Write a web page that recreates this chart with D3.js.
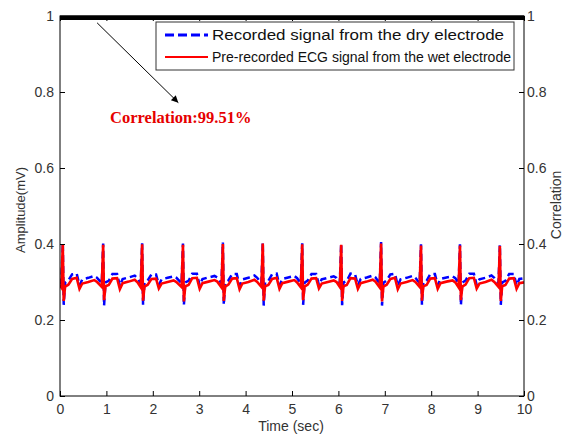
<!DOCTYPE html>
<html>
<head>
  <meta charset="utf-8">
  <title>ECG dry vs wet electrode</title>
  <style>
    body { margin: 0; background: #fff; }
    text { font-family: "Liberation Sans", Arial, sans-serif; }
  </style>
</head>
<body>
  <svg width="572" height="435"></svg>
  <script src="https://cdn.jsdelivr.net/npm/d3@7/dist/d3.min.js"></script>
  <script>
  // 1. data (time in sec, amplitude in mV)
  var time = [
    0.00,
    0.03, 0.06, 0.08, 0.11, 0.18, 0.26, 0.36, 0.42, 0.48, 0.61, 0.74, 0.80,
    0.90, 0.93, 0.95, 0.98, 1.05, 1.13, 1.23, 1.29, 1.35, 1.48, 1.61, 1.67,
    1.74, 1.77, 1.79, 1.82, 1.89, 1.97, 2.07, 2.13, 2.19, 2.32, 2.45, 2.51,
    2.62, 2.65, 2.67, 2.70, 2.77, 2.85, 2.95, 3.01, 3.07, 3.20, 3.33, 3.39,
    3.48, 3.51, 3.53, 3.56, 3.63, 3.71, 3.81, 3.87, 3.93, 4.06, 4.19, 4.25,
    4.34, 4.37, 4.39, 4.42, 4.49, 4.57, 4.67, 4.73, 4.79, 4.92, 5.05, 5.11,
    5.19, 5.22, 5.24, 5.27, 5.34, 5.42, 5.52, 5.58, 5.64, 5.77, 5.90, 5.96,
    6.03, 6.06, 6.08, 6.11, 6.18, 6.26, 6.36, 6.42, 6.48, 6.61, 6.74, 6.80,
    6.89, 6.92, 6.94, 6.97, 7.04, 7.12, 7.22, 7.28, 7.34, 7.47, 7.60, 7.66,
    7.75, 7.78, 7.80, 7.83, 7.90, 7.98, 8.08, 8.14, 8.20, 8.33, 8.46, 8.52,
    8.59, 8.62, 8.64, 8.67, 8.74, 8.82, 8.92, 8.98, 9.04, 9.17, 9.30, 9.36,
    9.45, 9.48, 9.50, 9.53, 9.60, 9.68, 9.78, 9.84, 9.90,
    10.00
  ];

  // recorded signal from the dry electrode
  var dryValues = [
    0.300,
    0.296, 0.403, 0.240, 0.298, 0.304, 0.320, 0.322, 0.291, 0.307, 0.311, 0.316, 0.311,
    0.297, 0.401, 0.238, 0.299, 0.303, 0.321, 0.321, 0.290, 0.308, 0.312, 0.317, 0.310,
    0.296, 0.402, 0.240, 0.298, 0.304, 0.320, 0.320, 0.292, 0.307, 0.311, 0.315, 0.311,
    0.297, 0.401, 0.239, 0.299, 0.303, 0.322, 0.322, 0.291, 0.308, 0.312, 0.316, 0.312,
    0.296, 0.404, 0.240, 0.298, 0.304, 0.321, 0.321, 0.290, 0.307, 0.311, 0.317, 0.311,
    0.297, 0.405, 0.238, 0.299, 0.303, 0.320, 0.322, 0.291, 0.308, 0.312, 0.316, 0.310,
    0.296, 0.402, 0.240, 0.298, 0.304, 0.321, 0.321, 0.292, 0.307, 0.311, 0.315, 0.311,
    0.297, 0.401, 0.239, 0.299, 0.303, 0.322, 0.320, 0.291, 0.308, 0.312, 0.317, 0.312,
    0.296, 0.405, 0.238, 0.298, 0.304, 0.320, 0.322, 0.290, 0.307, 0.311, 0.316, 0.311,
    0.297, 0.399, 0.240, 0.299, 0.303, 0.321, 0.321, 0.291, 0.308, 0.312, 0.315, 0.310,
    0.296, 0.399, 0.239, 0.298, 0.304, 0.322, 0.322, 0.292, 0.307, 0.311, 0.317, 0.311,
    0.297, 0.398, 0.240, 0.299, 0.303, 0.321, 0.321, 0.291, 0.308,
    0.310
  ];

  // pre-recorded ECG signal from the wet electrode
  var wetValues = [
    0.292,
    0.286, 0.400, 0.250, 0.288, 0.293, 0.308, 0.311, 0.282, 0.296, 0.300, 0.305, 0.300,
    0.287, 0.398, 0.252, 0.289, 0.292, 0.309, 0.310, 0.281, 0.297, 0.301, 0.306, 0.299,
    0.286, 0.399, 0.251, 0.288, 0.293, 0.308, 0.309, 0.283, 0.296, 0.300, 0.304, 0.300,
    0.287, 0.398, 0.249, 0.289, 0.292, 0.310, 0.311, 0.282, 0.297, 0.301, 0.305, 0.301,
    0.286, 0.400, 0.250, 0.288, 0.293, 0.309, 0.310, 0.281, 0.296, 0.300, 0.306, 0.300,
    0.287, 0.401, 0.251, 0.289, 0.292, 0.308, 0.311, 0.282, 0.297, 0.301, 0.305, 0.299,
    0.286, 0.399, 0.252, 0.288, 0.293, 0.309, 0.310, 0.283, 0.296, 0.300, 0.304, 0.300,
    0.287, 0.398, 0.250, 0.289, 0.292, 0.310, 0.309, 0.282, 0.297, 0.301, 0.306, 0.301,
    0.286, 0.401, 0.249, 0.288, 0.293, 0.308, 0.311, 0.281, 0.296, 0.300, 0.305, 0.300,
    0.287, 0.396, 0.251, 0.289, 0.292, 0.309, 0.310, 0.282, 0.297, 0.301, 0.304, 0.299,
    0.286, 0.396, 0.252, 0.288, 0.293, 0.310, 0.311, 0.283, 0.296, 0.300, 0.306, 0.300,
    0.287, 0.395, 0.250, 0.289, 0.292, 0.309, 0.310, 0.282, 0.297,
    0.299
  ];

  // correlation (right axis), constant over the record
  var corrTime = [0, 10];
  var corrValues = [0.9951, 0.9951];

  var xTicks = [0, 1, 2, 3, 4, 5, 6, 7, 8, 9, 10];
  var yTicks = [0, 0.2, 0.4, 0.6, 0.8, 1];
  var legendLabels = ["Recorded signal from the dry electrode",
                      "Pre-recorded ECG signal from the wet electrode"];
  var corrLabel = "Correlation:99.51%";

  // 2. scales
  var svg = d3.select("svg");
  var pLeft = 60, pRight = 524, pTop = 16, pBottom = 396;

  var x = d3.scaleLinear().domain([0, 10]).range([pLeft, pRight]);
  var y = d3.scaleLinear().domain([0, 1]).range([pBottom, pTop]);
  var y2 = d3.scaleLinear().domain([0, 1]).range([pBottom, pTop]);

  var defs = svg.append("defs");
  defs.append("clipPath").attr("id", "plot")
    .append("rect")
    .attr("x", pLeft).attr("y", pTop - 4)
    .attr("width", pRight - pLeft).attr("height", pBottom - pTop + 4);

  defs.append("marker")
    .attr("id", "head")
    .attr("viewBox", "0 0 10 10")
    .attr("refX", 10).attr("refY", 5)
    .attr("markerWidth", 9).attr("markerHeight", 7)
    .attr("markerUnits", "userSpaceOnUse")
    .attr("orient", "auto")
    .append("path")
    .attr("d", "M0,0L10,5L0,10z")
    .attr("fill", "#000");

  // 3. lines
  var plot = svg.append("g").attr("clip-path", "url(#plot)");

  var line = function(vals) {
    return d3.line()
      .x(function(d, i) { return x(time[i]); })
      .y(function(d) { return y(d); })(vals);
  };

  plot.append("path")
    .attr("d", line(dryValues))
    .attr("fill", "none")
    .attr("stroke", "#0000ff")
    .attr("stroke-width", 2.5)
    .attr("stroke-dasharray", "7,4");

  plot.append("path")
    .attr("d", line(wetValues))
    .attr("fill", "none")
    .attr("stroke", "#ff0000")
    .attr("stroke-width", 2.6);

  plot.append("path")
    .attr("d", d3.line()
      .x(function(d, i) { return x(corrTime[i]); })
      .y(function(d) { return y2(d); })(corrValues))
    .attr("fill", "none")
    .attr("stroke", "#000")
    .attr("stroke-width", 4.5);

  // 4. axes (matlab style box, ticks inside)
  var tickColor = "#333";
  function styleAxis(g) {
    g.select(".domain").remove();
    g.selectAll("line").attr("stroke", "#000");
    g.selectAll("text")
      .attr("fill", tickColor)
      .style("font-size", "14px")
      .style("font-family", "'Liberation Sans', Arial, sans-serif");
  }
  var yFmt = function(d) { return d === 0 || d === 1 ? d : d3.format(".1f")(d); };

  svg.append("g")
    .attr("transform", "translate(0," + pBottom + ")")
    .call(d3.axisBottom(x).tickValues(xTicks).tickSize(-5).tickPadding(8)
      .tickFormat(d3.format("d")))
    .call(styleAxis);

  svg.append("g")
    .attr("transform", "translate(0," + pTop + ")")
    .call(d3.axisTop(x).tickValues(xTicks).tickSize(-5).tickFormat(""))
    .call(styleAxis);

  svg.append("g")
    .attr("transform", "translate(" + pLeft + ",0)")
    .call(d3.axisLeft(y).tickValues(yTicks).tickSize(-5).tickPadding(6).tickFormat(yFmt))
    .call(styleAxis);

  svg.append("g")
    .attr("transform", "translate(" + pRight + ",0)")
    .call(d3.axisRight(y2).tickValues(yTicks).tickSize(-5).tickPadding(3).tickFormat(yFmt))
    .call(styleAxis);

  svg.append("rect")
    .attr("x", pLeft).attr("y", pTop)
    .attr("width", pRight - pLeft).attr("height", pBottom - pTop)
    .attr("fill", "none")
    .attr("stroke", "#000")
    .attr("stroke-width", 1);

  // axis titles
  svg.append("text")
    .attr("x", 291).attr("y", 431)
    .attr("text-anchor", "middle")
    .attr("fill", tickColor)
    .style("font-size", "14px")
    .text("Time (sec)");

  svg.append("text")
    .attr("transform", "translate(25,210) rotate(-90)")
    .attr("text-anchor", "middle")
    .attr("fill", tickColor)
    .style("font-size", "13px")
    .text("Amplitude(mV)");

  svg.append("text")
    .attr("transform", "translate(561,205) rotate(-90)")
    .attr("text-anchor", "middle")
    .attr("fill", tickColor)
    .style("font-size", "14px")
    .text("Correlation");

  // 5. annotation arrow + label
  svg.append("line")
    .attr("x1", x(0.80)).attr("y1", y(0.982))
    .attr("x2", x(2.55)).attr("y2", y(0.772))
    .attr("stroke", "#000")
    .attr("stroke-width", 1)
    .attr("marker-end", "url(#head)");

  svg.append("text")
    .attr("x", x(1.08)).attr("y", y(0.718))
    .attr("fill", "#e60000")
    .style("font-family", "'Liberation Serif', 'Times New Roman', serif")
    .style("font-weight", "bold")
    .style("font-size", "16.5px")
    .text(corrLabel);

  // 6. legend
  var legend = svg.append("g");
  legend.append("rect")
    .attr("x", 156).attr("y", 22)
    .attr("width", 358).attr("height", 48)
    .attr("fill", "#fff")
    .attr("stroke", "#333")
    .attr("stroke-width", 1);

  var rows = legend.selectAll("g.row")
    .data(legendLabels)
    .enter()
    .append("g")
    .attr("class", "row")
    .attr("transform", function(d, i) { return "translate(0," + (35 + i * 22) + ")"; });

  rows.append("line")
    .attr("x1", 165).attr("x2", 208)
    .attr("y1", 0).attr("y2", 0)
    .attr("stroke", function(d, i) { return i === 0 ? "#0000ff" : "#ff0000"; })
    .attr("stroke-width", function(d, i) { return i === 0 ? 3 : 2.2; })
    .attr("stroke-dasharray", function(d, i) { return i === 0 ? "9,4" : null; });

  rows.append("text")
    .attr("x", 212).attr("y", 5)
    .attr("fill", "#111")
    .attr("textLength", function(d, i) { return i === 0 ? 292 : 299; })
    .attr("lengthAdjust", "spacingAndGlyphs")
    .style("font-size", "14px")
    .text(function(d) { return d; });
  </script>
</body>
</html>
